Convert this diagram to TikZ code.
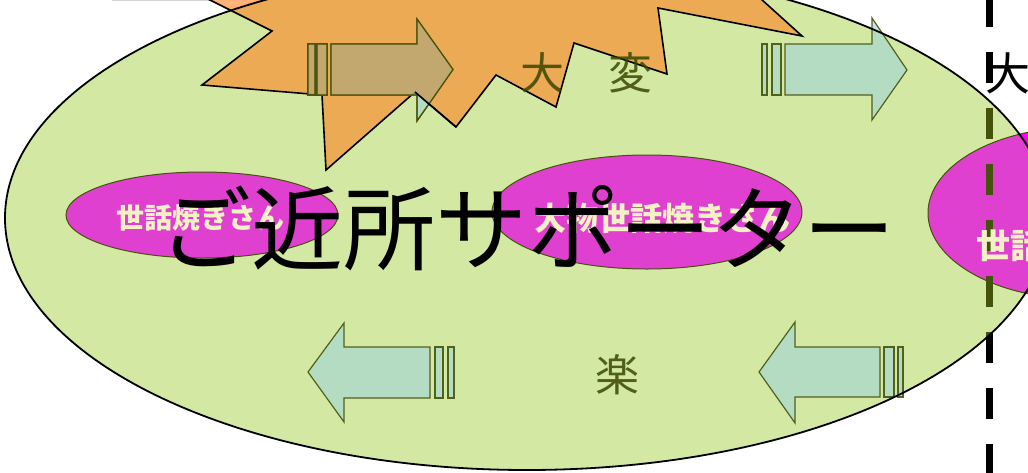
\documentclass[tikz,border=0pt]{standalone}
\usepackage{fontspec}
\newfontfamily\jp{Noto Sans CJK JP}
\definecolor{gfill}{HTML}{D3E9A3}
\definecolor{orng}{HTML}{FF8020}
\definecolor{mag}{HTML}{E040D0}
\definecolor{magb}{HTML}{FF00FF}
\definecolor{olv}{HTML}{45520A}
\definecolor{arw}{HTML}{9FD4D8}
\definecolor{tan}{HTML}{C4A262}
\definecolor{cream}{HTML}{F4F2C4}
\definecolor{olvtxt}{HTML}{3A4600}
\begin{document}
\begin{tikzpicture}[x=1pt,y=-1pt,
  arrowfill/.style={fill=arw, fill opacity=0.6, draw=olv, draw opacity=0.9, line width=1.2pt},
  magell/.style={fill=mag, draw=olv, line width=1pt},
  txt/.style={inner sep=0pt, anchor=center},
  dashline/.style={line width=7pt, dash pattern=on 31pt off 25pt}]
\useasboundingbox (0,0) rectangle (1028,472);
\clip (0,0) rectangle (1028,472);
% faint gray line top-left
\draw[gray!35, line width=1.5pt] (112,0.7) -- (212,0.7);
% big green ellipse
\fill[gfill] (527,218) ellipse [x radius=522pt, y radius=252pt];
% explosion
\path[fill=orng, fill opacity=0.6, draw=black, line width=1.6pt]
  (180,-15) -- (272,31) -- (202,85) -- (322,95) -- (326,170) -- (415,92)
  -- (456,127) -- (496,75) -- (556,107) -- (574,43) -- (667,74) -- (658,8)
  -- (802,36) -- (740,-20) -- (600,-50) -- (400,-50) -- cycle;
% arrows
\path[arrowfill] (308,44) rectangle (315,95);
\path[arrowfill] (317,44) rectangle (327,95);
\path[arrowfill] (331,44) -- (417,44) -- (417,19) -- (453,69.5) -- (417,121) -- (417,95) -- (331,95) -- cycle;
\begin{scope}
  \clip (180,-15) -- (272,31) -- (202,85) -- (322,95) -- (326,170) -- (415,92)
  -- (456,127) -- (496,75) -- (556,107) -- (574,43) -- (667,74) -- (658,8)
  -- (802,36) -- (740,-20) -- (600,-50) -- (400,-50) -- cycle;
  \fill[tan, fill opacity=0.8] (308,44) rectangle (315,95);
  \fill[tan, fill opacity=0.8] (317,44) rectangle (327,95);
  \fill[tan, fill opacity=0.8] (331,44) -- (417,44) -- (417,19) -- (453,69.5) -- (417,121) -- (417,95) -- (331,95) -- cycle;
\end{scope}
\draw[olv, line width=1.2pt] (308,44) rectangle (315,95) (317,44) rectangle (327,95)
  (331,44) -- (417,44) -- (417,19) -- (453,69.5) -- (417,121) -- (417,95) -- (331,95) -- cycle;
\draw[black, line width=1.6pt] (415,92) -- (456,127);
\path[arrowfill] (762,44) rectangle (767,95);
\path[arrowfill] (772,44) rectangle (781,95);
\path[arrowfill] (785,44) -- (872,44) -- (872,18) -- (907,70) -- (872,120) -- (872,95) -- (785,95) -- cycle;
\path[arrowfill] (448,347) rectangle (454,398);
\path[arrowfill] (435,347) rectangle (443,398);
\path[arrowfill] (430,347) -- (344,347) -- (344,323) -- (308,372) -- (344,422) -- (344,398) -- (430,398) -- cycle;
\path[arrowfill] (898,347) rectangle (903,397);
\path[arrowfill] (884,347) rectangle (894,397);
\path[arrowfill] (880,347) -- (795,347) -- (795,322) -- (759,372) -- (795,423) -- (795,397) -- (880,397) -- cycle;
% magenta ellipses
\path[magell] (202,215) ellipse [x radius=136pt, y radius=43pt];
\path[magell] (647,212) ellipse [x radius=155pt, y radius=57pt];
\path[fill=magb] (1081,213) ellipse [x radius=153pt, y radius=86pt];
\begin{scope}
  \clip (527,218) ellipse [x radius=522pt, y radius=252pt];
  \fill[mag] (1081,213) ellipse [x radius=153pt, y radius=86pt];
\end{scope}
\draw[olv, line width=1pt] (1081,213) ellipse [x radius=153pt, y radius=86pt];
% dashed vertical line
\draw[dashline, black] (989,-4) -- (989,480);
\begin{scope}
  \clip (527,218) ellipse [x radius=522pt, y radius=252pt];
  \draw[dashline, olv] (989,-4) -- (989,480);
\end{scope}
% green ellipse outline
\draw[black, line width=1.8pt] (527,218) ellipse [x radius=522pt, y radius=252pt];
% texts
\node[txt, text=cream, font={\jp\bfseries\fontsize{28}{28}\selectfont}] (t1) at (200,218) {世話焼きさん};
\node[txt, text=cream, font={\jp\bfseries\fontsize{32}{32}\selectfont}] (t2) at (662,218) {大物世話焼きさん};
\node[txt, anchor=west, text=cream, font={\jp\bfseries\fontsize{34}{34}\selectfont}] (t3) at (976,246) {世話};
\node[txt, text=olvtxt, text opacity=0.85, font={\jp\fontsize{44}{44}\selectfont}] (dai) at (542,73) {大};
\node[txt, text=olvtxt, text opacity=0.85, font={\jp\fontsize{44}{44}\selectfont}] (hen) at (630,73) {変};
\node[txt, text=olvtxt, text opacity=0.85, font={\jp\fontsize{44}{44}\selectfont}] (raku) at (617,375) {楽};
\node[txt, anchor=west, text=black, font={\jp\fontsize{45}{45}\selectfont}] (dai2) at (985,73) {大};
\node[txt, text=black, font={\jp\fontsize{92}{92}\selectfont}] (title) at (527,228) {ご近所サポーター};
\end{tikzpicture}
\end{document}
